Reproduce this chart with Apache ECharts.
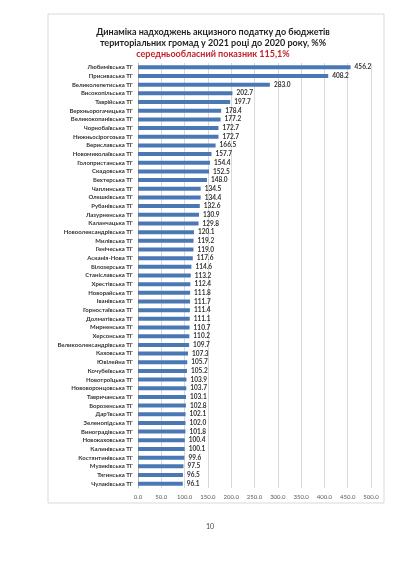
<!DOCTYPE html>
<html>
<head>
<meta charset="utf-8">
<script src="https://cdn.jsdelivr.net/npm/echarts@6/dist/echarts.min.js"></script>
<style>
html,body{margin:0;padding:0;background:#fff;}
#c{width:400px;height:565px;}
</style>
</head>
<body>
<div id="c"></div>
<script>
const categories = [
"Любимівська ТГ","Присиваська ТГ","Великолепетиська ТГ","Високопільська ТГ","Таврійська ТГ",
"Верхньорогачицька ТГ","Великокопанівська ТГ","Чорнобаївська ТГ","Нижньосірогозька ТГ","Бериславська ТГ",
"Новомиколаївська ТГ","Голопристанська ТГ","Скадовська ТГ","Бехтерська ТГ","Чаплинська ТГ",
"Олешківська ТГ","Рубанівська ТГ","Лазурненська ТГ","Каланчацька ТГ","Новоолександрівська ТГ",
"Милівська ТГ","Генічеська ТГ","Асканія-Нова ТГ","Білозерська ТГ","Станіславська ТГ",
"Хрестівська ТГ","Новорайська ТГ","Іванівська ТГ","Горностаївська ТГ","Долматівська ТГ",
"Мирненська ТГ","Херсонська ТГ","Великоолександрівська ТГ","Каховська ТГ","Ювілейна ТГ",
"Кочубеївська ТГ","Новотроїцька ТГ","Нововоронцовська ТГ","Тавричанська ТГ","Борозенська ТГ",
"Дар'ївська ТГ","Зеленопідська ТГ","Виноградівська ТГ","Новокаховська ТГ","Калинівська ТГ",
"Костянтинівська ТГ","Музиківська ТГ","Тягинська ТГ","Чулаківська ТГ"
];
const values = [
456.2,408.2,283.0,202.7,197.7,
178.4,177.2,172.7,172.7,166.5,
157.7,154.4,152.5,148.0,134.5,
134.4,132.6,130.9,129.8,120.1,
119.2,119.0,117.6,114.6,113.2,
112.4,111.8,111.7,111.4,111.1,
110.7,110.2,109.7,107.3,105.7,
105.2,103.9,103.7,103.1,102.8,
102.1,102.0,101.8,100.4,100.1,
99.6,97.5,96.5,96.1
];
const titleLines = ["Динаміка надходжень акцизного податку до бюджетів","територіальних громад у 2021 році до 2020 року, %%"];
const subtitle = "середньообласний показник 115,1%";
const pageNumber = "10";

const chart = echarts.init(document.getElementById('c'), null, {renderer:'canvas'});
const FONT = 'Lato';
chart.setOption({
  backgroundColor:'#ffffff',
  animation:false,
  title:[
    {text:titleLines.join('\n'), left:208, top:21, textAlign:'center',
     textStyle:{fontFamily:FONT,fontSize:9,fontWeight:'bold',color:'#1f1f1f',lineHeight:11.5}},
    {text:subtitle, left:208, top:45, textAlign:'center',
     textStyle:{fontFamily:FONT,fontSize:9,fontWeight:'bold',color:'#c0232c'}}
  ],
  graphic:[
    {type:'rect', shape:{x:48,y:14,width:336,height:489}, style:{fill:'none',stroke:'#d9d9d9',lineWidth:1}, silent:true},
    {type:'text', x:210, y:527, style:{text:pageNumber, fill:'#444', font:'7px '+FONT, textAlign:'center', textVerticalAlign:'middle'}}
  ],
  grid:{left:138,right:29,top:63,bottom:77,containLabel:false},
  xAxis:{
    type:'value', min:0, max:500, interval:50,
    axisLine:{show:false}, axisTick:{show:false},
    splitLine:{lineStyle:{color:'#d9d9d9',width:1}},
    axisLabel:{fontFamily:FONT,fontSize:6,color:'#595959',margin:6,formatter:v=>v.toFixed(1)}
  },
  yAxis:{
    type:'category', data:categories, inverse:true,
    axisLine:{show:true,lineStyle:{color:'#bfbfbf'}}, axisTick:{show:false},
    axisLabel:{fontFamily:FONT,fontSize:6,fontWeight:'bold',color:'#333',margin:5,interval:0}
  },
  series:[{
    type:'bar', data:values, barWidth:4,
    itemStyle:{color:'#4a78b5'},
    label:{show:true,position:'right',distance:4,fontFamily:FONT,fontSize:6.5,fontWeight:'bold',color:'#333',
      formatter:p=>p.value.toFixed(1)}
  }]
});
</script>
</body>
</html>
